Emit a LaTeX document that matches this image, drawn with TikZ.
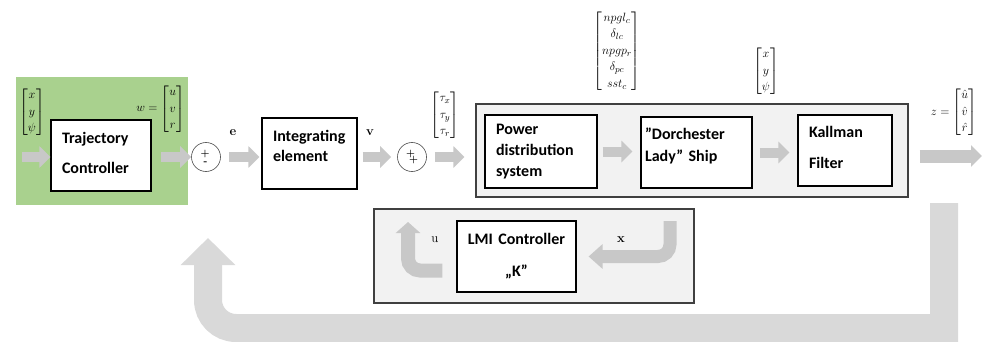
\documentclass[tikz,border=0pt]{standalone}
\usepackage{amsmath,amssymb}
\usepackage{fontspec}
\newfontfamily\blockfont{Carlito}
\usepackage{tikz}
\usetikzlibrary{arrows.meta,positioning,calc}

\definecolor{ctrlgreen}{RGB}{169,209,142}
\definecolor{panelgray}{RGB}{242,242,242}
\definecolor{panelborder}{RGB}{64,64,64}
\definecolor{flowgray}{RGB}{200,200,200}
\definecolor{loopgray}{RGB}{217,217,217}

\tikzset{
  block/.style={
     draw=black,
     line width=1.2pt,
     fill=white,
     align=left,
     inner xsep=11pt,
     minimum height=71pt,
     font=\blockfont\bfseries\fontsize{16}{20}\selectfont
  },
  panel/.style={
     draw=panelborder,
     line width=1.2pt,
     fill=panelgray
  },
  sumpoint/.style={
     circle,
     draw=black!70,
     line width=0.6pt,
     fill=white,
     minimum size=29pt,
     inner sep=0pt,
     align=left,
     font=\bfseries\fontsize{10}{10}\selectfont
  },
  vec/.style={inner sep=0pt, font=\fontsize{13}{16.5}\selectfont},
  sig/.style={inner sep=0pt, font=\bfseries\fontsize{13}{13}\selectfont},
  flow/.style={
     draw=flowgray,
     line width=10pt,
     -{Triangle[length=11pt,width=21pt]}
  },
  loopflow/.style={
     draw=loopgray,
     line width=28pt,
     -{Triangle[length=27pt,width=53pt]}
  }
}

\begin{document}
\begin{tikzpicture}[x=1pt, y=-1pt]
  \useasboundingbox (0,0) rectangle (984,342);

  % trajectory part
  \node[fill=ctrlgreen, minimum width=172pt, minimum height=128pt] (trajpanel) at (102,141) {};
  \node[block, minimum width=100pt, text width=78pt] (traj) at (101,155.5) {Trajectory\\[10pt]Controller\\[-14pt]\mbox{}};
  \node[sumpoint] (sum1) at (206,157) {+\\[-2pt]\hspace*{3pt}-\hspace*{4pt}};
  \node[block, minimum width=95pt, text width=73pt] (integ) at (309.5,153.5) {Integrating\\element\\[-4pt]\mbox{}};
  \node[sumpoint] (sum2) at (412,157) {+\\[-4pt]\hspace*{3pt}+};

  % ship with its power system and filter
  \node[panel, minimum width=432pt, minimum height=93pt] (plant) at (692,150.5) {};
  \node[block, minimum width=112pt, minimum height=73pt, text width=90pt] (power) at (541,151.5) {Power\\[1pt]distribution\\[1pt]system};
  \node[block, minimum width=111pt, inner xsep=4pt, text width=103pt] (ship) at (696.5,152.5) {”Dorchester\\[2pt]Lady” Ship\\[-4pt]\mbox{}};
  \node[block, minimum width=94pt, text width=72pt] (kalman) at (845,150.5) {Kallman\\[11pt]Filter\\[-14pt]\mbox{}};

  % state feedback
  \node[panel, minimum width=320pt, minimum height=94pt] (lmipanel) at (534,256) {};
  \node[block, align=center, inner xsep=3pt, minimum width=119pt, text width=113pt] (lmi) at (516.5,256.5) {LMI Controller\\[12pt]„K”};

  % signals
  \node[vec] (posref) at (32,112) {$\begin{bmatrix}x\\y\\\psi\end{bmatrix}$};
  \node[vec, anchor=east] (wvec) at (185,109) {$w=\begin{bmatrix}u\\v\\r\end{bmatrix}$};
  \node[sig] (elab) at (233,133) {e};
  \node[sig] (vlab) at (370,133) {v};
  \node[vec] (tauvec) at (445,115) {$\begin{bmatrix}\tau_x\\\tau_y\\\tau_r\end{bmatrix}$};
  \node[vec] (actvec) at (617,51) {$\begin{bmatrix}npgl_c\\\delta_{lc}\\npgp_r\\\delta_{pc}\\sst_c\end{bmatrix}$};
  \node[vec] (posvec) at (766,71) {$\begin{bmatrix}x\\y\\\psi\end{bmatrix}$};
  \node[vec, anchor=east] (zvec) at (977,112) {$z=\begin{bmatrix}\hat{u}\\\hat{v}\\\hat{r}\end{bmatrix}$};
  \node[sig, font=\fontsize{13}{13}\selectfont] (ulab) at (435,240) {u};
  \node[sig] (xlab) at (621,240) {x};

  % free ends
  \coordinate (refin) at (22,157);
  \coordinate (zout) at (982,156);
  \coordinate (xtop) at (670,221);
  \coordinate (utop) at (408,222);
  \coordinate (fbtop) at (944,203);
  \coordinate (fbcorner) at (944,328);
  \coordinate (fbtip) at (208,238);

  % forward path
  \draw[flow] (refin) -- (refin -| traj.west);
  \draw[flow, shorten <=9pt] (traj.east |- sum1) -- (sum1.west);
  \draw[flow, shorten <=8pt, shorten >=2pt] (sum1.east) -- (sum1 -| integ.west);
  \draw[flow, shorten <=5pt, shorten >=6pt] (integ.east |- sum2) -- (sum2.west);
  \draw[flow, shorten <=8pt, shorten >=11pt] (sum2.east) -- (sum2 -| plant.west);
  \draw[flow, shorten <=5pt, shorten >=8pt] (power.east) -- (power.east -| ship.west);
  \draw[flow, shorten <=7pt, shorten >=8pt] (ship.east) -- (ship.east -| kalman.west);
  \draw[flow, line width=13pt, shorten <=11pt] (plant.east |- zout) -- (zout);

  % feedback path
  \draw[flow, line width=13pt, rounded corners=12pt, shorten >=12pt,
        -{Triangle[length=14pt,width=24pt]}] (xtop) |- (lmi.east);
  \draw[flow, line width=14pt, rounded corners=12pt, shorten <=14pt,
        -{Triangle[length=11pt,width=24pt]}] ([yshift=-14pt]lmi.west) -| (utop);
  \draw[loopflow] (fbtop) -- (fbcorner) [rounded corners=28pt] -| (fbtip);
\end{tikzpicture}
\end{document}
